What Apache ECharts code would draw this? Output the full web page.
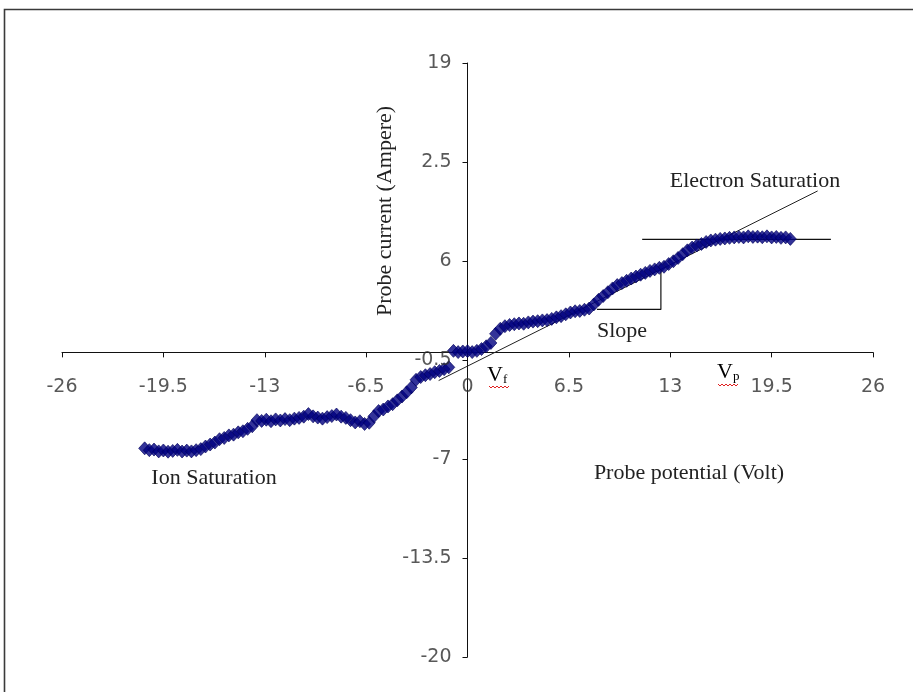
<!DOCTYPE html>
<html>
<head>
<meta charset="utf-8">
<script src="https://cdn.jsdelivr.net/npm/echarts@6/dist/echarts.min.js"></script>
<style>
  html, body { margin: 0; padding: 0; background: #fff; }
  #chart { width: 913px; height: 692px; }
</style>
</head>
<body>
<div id="chart"></div>
<script>
// Langmuir probe I-V characteristic
const potential = [
  -20.7, -20.4, -20.1, -19.8, -19.5, -19.2, -18.9, -18.6, -18.3, -18.0,
  -17.7, -17.4, -17.1, -16.8, -16.5, -16.2, -15.9, -15.6, -15.3, -15.0,
  -14.7, -14.4, -14.1, -13.8, -13.5, -13.2, -12.9, -12.6, -12.3, -12.0,
  -11.7, -11.4, -11.1, -10.8, -10.5, -10.2, -9.9, -9.6, -9.3, -9.0,
  -8.7, -8.4, -8.1, -7.8, -7.5, -7.2, -6.9, -6.6, -6.3, -6.0,
  -5.7, -5.4, -5.1, -4.8, -4.5, -4.2, -3.9, -3.6, -3.3, -3.0,
  -2.7, -2.4, -2.1, -1.8, -1.5, -1.2, -0.9, -0.6, -0.3, 0.0,
  0.3, 0.6, 0.9, 1.2, 1.5, 1.8, 2.1, 2.4, 2.7, 3.0,
  3.3, 3.6, 3.9, 4.2, 4.5, 4.8, 5.1, 5.4, 5.7, 6.0,
  6.3, 6.6, 6.9, 7.2, 7.5, 7.8, 8.1, 8.4, 8.7, 9.0,
  9.3, 9.6, 9.9, 10.2, 10.5, 10.8, 11.1, 11.4, 11.7, 12.0,
  12.3, 12.6, 12.9, 13.2, 13.5, 13.8, 14.1, 14.4, 14.7, 15.0,
  15.3, 15.6, 15.9, 16.2, 16.5, 16.8, 17.1, 17.4, 17.7, 18.0,
  18.3, 18.6, 18.9, 19.2, 19.5, 19.8, 20.1, 20.4, 20.7
];
const current = [
  -6.30, -6.42, -6.38, -6.50, -6.44, -6.52, -6.47, -6.40, -6.51, -6.45,
  -6.50, -6.42, -6.35, -6.18, -6.05, -5.92, -5.70, -5.62, -5.45, -5.40,
  -5.25, -5.18, -5.02, -4.85, -4.45, -4.50, -4.42, -4.52, -4.40, -4.47,
  -4.38, -4.45, -4.35, -4.30, -4.22, -4.05, -4.20, -4.28, -4.35, -4.25,
  -4.18, -4.08, -4.22, -4.30, -4.45, -4.60, -4.52, -4.70, -4.62, -4.20,
  -3.85, -3.75, -3.55, -3.40, -3.15, -2.90, -2.62, -2.30, -1.80, -1.62,
  -1.50, -1.42, -1.30, -1.22, -1.10, -0.98, 0.10, 0.02, 0.06, 0.08,
  0.02, 0.10, 0.22, 0.40, 0.62, 1.22, 1.55, 1.72, 1.80, 1.85,
  1.90, 1.88, 1.97, 2.02, 2.05, 2.10, 2.12, 2.20, 2.30, 2.38,
  2.50, 2.62, 2.70, 2.72, 2.80, 2.88, 3.15, 3.45, 3.70, 3.95,
  4.20, 4.42, 4.55, 4.70, 4.85, 4.98, 5.10, 5.22, 5.35, 5.45,
  5.55, 5.62, 5.80, 5.98, 6.20, 6.45, 6.70, 6.88, 7.02, 7.12,
  7.25, 7.35, 7.40, 7.45, 7.48, 7.52, 7.55, 7.58, 7.55, 7.62,
  7.58, 7.60, 7.56, 7.62, 7.55, 7.58, 7.52, 7.55, 7.45
];

// Construction lines: tangent through the transition region, saturation level, slope triangle
const tangentLine = [[-1.85, -1.85], [22.45, 10.6]];
const saturationLine = [[11.2, 7.42], [23.3, 7.42]];
const slopeTriangle = [[8.3, 2.82], [12.4, 2.82], [12.4, 5.45]];

// Axis ticks and their printed labels
const xTicks = [-26, -19.5, -13, -6.5, 0, 6.5, 13, 19.5, 26];
const xTickLabels = ['-26', '-19.5', '-13', '-6.5', '0', '6.5', '13', '19.5', '26'];
const yTicks = [-20, -13.5, -7, -0.5, 6, 12.5, 19];
const yTickLabels = ['-20', '-13.5', '-7', '-0.5', '6', '2.5', '19'];

const points = potential.map((v, i) => [v, current[i]]);

const tickText = { fontFamily: 'DejaVu Sans', fontSize: 19, color: '#2e2e2e' };
const serif = 'Liberation Serif';
const serifSize = 22;

function plainText(x, y, text, extra) {
  return Object.assign({
    type: 'text', x: x, y: y, z: 50, silent: true,
    style: { text: text, font: serifSize + 'px "' + serif + '"', fill: '#222',
             textAlign: 'center', textVerticalAlign: 'middle' }
  }, extra || {});
}

function subscriptText(x, y, main, sub) {
  return {
    type: 'text', x: x, y: y, z: 50, silent: true,
    style: {
      text: '{v|' + main + '}{s|' + sub + '}', textVerticalAlign: 'middle',
      rich: {
        v: { fontFamily: serif, fontSize: 22, color: '#222' },
        s: { fontFamily: serif, fontSize: 13, color: '#222', padding: [9, 0, 0, 0] }
      }
    }
  };
}

function squiggle(x0, y0, n) {
  const pts = [];
  for (let i = 0; i <= n; i++) pts.push([x0 + i * 2, y0 + (i % 2 ? 2 : 0)]);
  return {
    type: 'polyline', z: 50, silent: true, shape: { points: pts },
    style: { stroke: '#e02020', lineWidth: 1, fill: 'none' }
  };
}

const chart = echarts.init(document.getElementById('chart'));
chart.setOption({
  animation: false,
  backgroundColor: '#fff',
  grid: { left: 62, right: 40, top: 63, bottom: 35 },
  xAxis: {
    type: 'value', min: -26, max: 26, interval: 6.5,
    axisLine: { onZero: true, lineStyle: { color: '#111', width: 1 } },
    axisTick: { show: true, length: 5, lineStyle: { color: '#111' } },
    axisLabel: { show: false },
    splitLine: { show: false }
  },
  yAxis: {
    type: 'value', min: -20, max: 19,
    axisLine: { onZero: true, lineStyle: { color: '#111', width: 1 } },
    axisTick: { show: true, length: 5, customValues: yTicks, lineStyle: { color: '#111' } },
    axisLabel: { show: false },
    splitLine: { show: false }
  },
  series: [
    {
      type: 'line', data: tangentLine, showSymbol: false, silent: true,
      lineStyle: { color: '#222', width: 1 }, z: 1
    },
    {
      type: 'line', data: saturationLine, showSymbol: false, silent: true,
      lineStyle: { color: '#111', width: 1.2 }, z: 1
    },
    {
      type: 'line', data: slopeTriangle, showSymbol: false, silent: true,
      lineStyle: { color: '#111', width: 1.2 }, z: 1
    },
    {
      type: 'scatter', data: points, symbol: 'diamond', symbolSize: [12, 13],
      itemStyle: { color: '#000080', borderColor: '#00005a', borderWidth: 0.8 }, z: 3
    },
    // tick labels that ride along the axes crossing at the origin
    {
      type: 'scatter', silent: true, symbolSize: 0, clip: false, z: 4,
      data: xTicks.map(v => [v, 0]),
      label: Object.assign({
        show: true, position: 'bottom', distance: 25,
        formatter: p => xTickLabels[p.dataIndex]
      }, tickText)
    },
    {
      type: 'scatter', silent: true, symbolSize: 0, clip: false, z: 4,
      data: yTicks.map(v => [0, v]),
      label: Object.assign({
        show: true, position: 'left', distance: 16,
        formatter: p => yTickLabels[p.dataIndex]
      }, tickText)
    }
  ],
  graphic: [
    {
      type: 'rect', z: 100, silent: true,
      shape: { x: 4.5, y: 9.5, width: 960, height: 720 },
      style: { fill: 'none', stroke: '#3a3a3a', lineWidth: 1.6 }
    },
    plainText(385, 211, 'Probe current (Ampere)', { rotation: Math.PI / 2 }),
    plainText(689, 473, 'Probe potential (Volt)'),
    plainText(755, 181, 'Electron Saturation'),
    plainText(214, 478, 'Ion Saturation'),
    plainText(622, 331, 'Slope'),
    subscriptText(487, 375, 'V', 'f'),
    subscriptText(717, 372, 'V', 'p'),
    squiggle(489, 386, 10),
    squiggle(718, 384, 10)
  ]
});
</script>
</body>
</html>
